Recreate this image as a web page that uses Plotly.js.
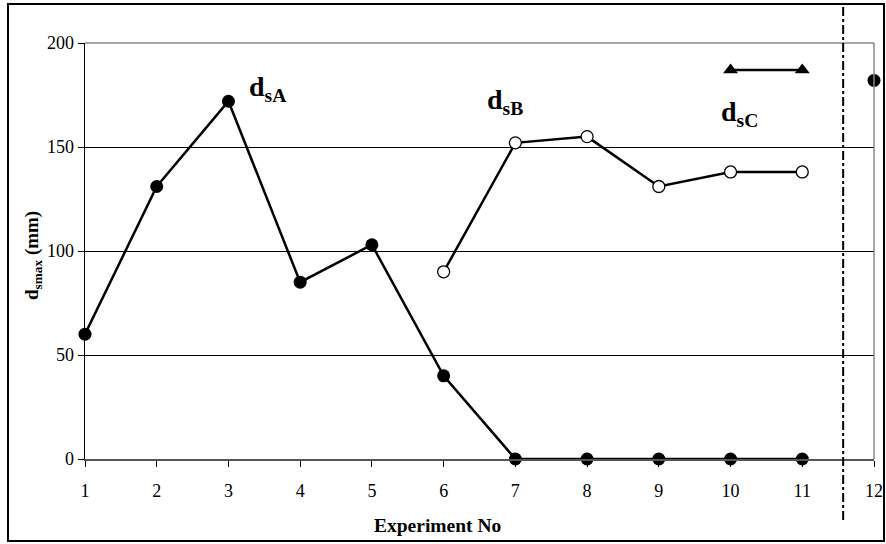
<!DOCTYPE html>
<html><head><meta charset="utf-8">
<script src="https://cdn.plot.ly/plotly-3.0.1.min.js"></script>
<style>html,body{margin:0;padding:0;background:#fff}#c{width:886px;height:544px}</style>
</head><body><div id="c"></div>
<script>
const xA = [1,2,3,4,5,6,7,8,9,10,11];
const yA = [60,131,172,85,103,40,0,0,0,0,0];
const xB = [6,7,8,9,10,11];
const yB = [90,152,155,131,138,138];
const xC = [10,11];
const yC = [187,187];
const x12 = [12];
const y12 = [182];
const xTicks = [1,2,3,4,5,6,7,8,9,10,11,12];
const yTicks = [0,50,100,150,200];
const dividerX = 11.57;

const F = "Liberation Serif";
const L = 85, R = 12, T = 43, B = 85, W = 886, H = 544;
const pw = W - L - R, ph = H - T - B;
const px = v => (v - L) / pw;
const py = v => (H - B - v) / ph;

const traces = [
  {x:xA, y:yA, mode:'lines+markers', line:{color:'#000', width:2.5},
   marker:{symbol:'circle', size:13, color:'#000'}, cliponaxis:false},
  {x:xB, y:yB, mode:'lines+markers', line:{color:'#000', width:2.5},
   marker:{symbol:'circle', size:12, color:'#fff', line:{color:'#000', width:1.3}}, cliponaxis:false},
  {x:xC, y:yC, mode:'lines+markers', line:{color:'#000', width:2.5},
   marker:{symbol:'triangle-up', size:13, color:'#000'}, cliponaxis:false},
  {x:x12, y:y12, mode:'markers', marker:{symbol:'circle', size:13, color:'#000'}, cliponaxis:false}
];

const ann = (x, y, text, size, extra) => Object.assign({x, y, text, showarrow:false,
  xanchor:'center', yanchor:'middle', font:{family:F, size, color:'#000'}}, extra || {});

const layout = {
  width:W, height:H, margin:{l:L, r:R, t:T, b:B},
  paper_bgcolor:'#fff', plot_bgcolor:'#fff', showlegend:false,
  font:{family:F, color:'#000', size:18},
  xaxis:{range:[1,12], tickvals:xTicks, ticktext:xTicks.map(String), showgrid:false, zeroline:false,
    showline:true, linecolor:'#555', linewidth:2, ticks:'outside', ticklen:6, tickcolor:'#000',
    tickfont:{family:F, size:18}, ticklabelstandoff:8},
  yaxis:{range:[0,200], tickvals:yTicks, showgrid:true, gridcolor:'#000', gridwidth:1, zeroline:false,
    showline:true, linecolor:'#000', linewidth:1.5, ticks:'outside', ticklen:6, tickcolor:'#000',
    tickfont:{family:F, size:18}},
  shapes:[
    {type:'rect', xref:'paper', yref:'paper', x0:px(8), x1:px(884), y0:py(541), y1:py(4),
     line:{color:'#000', width:2}, fillcolor:'rgba(0,0,0,0)'},
    {type:'line', xref:'paper', yref:'paper', x0:0, x1:1, y0:1, y1:1, line:{color:'#888', width:1.5}},
    {type:'line', xref:'paper', yref:'paper', x0:1, x1:1, y0:0, y1:1, line:{color:'#888', width:1.5}},
    {type:'line', xref:'x', yref:'paper', x0:dividerX, x1:dividerX, y0:py(520), y1:py(6),
     line:{color:'#000', width:2, dash:'dashdot'}}
  ],
  annotations:[
    ann(3.54, 178, '<b>d<sub>sA</sub></b>', 28, {xref:'x', yref:'y'}),
    ann(6.86, 172, '<b>d<sub>sB</sub></b>', 28, {xref:'x', yref:'y'}),
    ann(10.13, 166, '<b>d<sub>sC</sub></b>', 28, {xref:'x', yref:'y'}),
    ann(px(437), py(525), '<b>Experiment No</b>', 19.5, {xref:'paper', yref:'paper'}),
    ann(px(33), py(256), '<b>d<sub>smax</sub> (mm)</b>', 19, {xref:'paper', yref:'paper', textangle:-90})
  ]
};
Plotly.newPlot('c', traces, layout, {staticPlot:true});
</script></body></html>
